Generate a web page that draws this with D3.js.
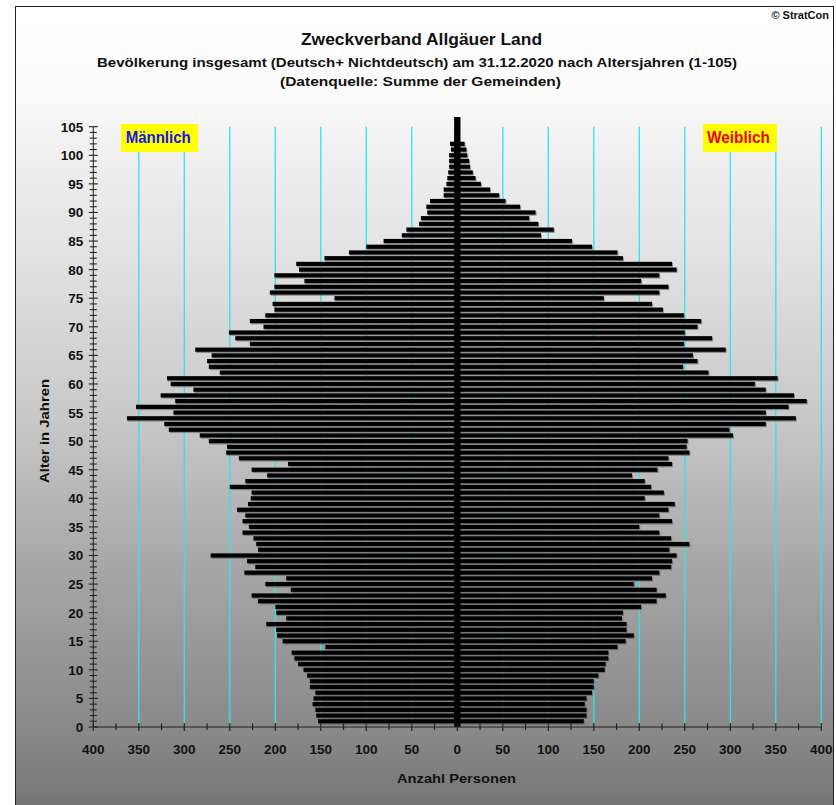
<!DOCTYPE html>
<html><head><meta charset="utf-8">
<script src="https://cdn.jsdelivr.net/npm/d3@7"></script>
<style>body{margin:0;background:#fff}svg{display:block}text{font-family:"Liberation Sans",Arial,sans-serif;font-weight:bold}</style>
</head><body>
<script>
const ages = [1,2,3,4,5,6,7,8,9,10,11,12,13,14,15,16,17,18,19,20,21,22,23,24,25,26,27,28,29,30,31,32,33,34,35,36,37,38,39,40,41,42,43,44,45,46,47,48,49,50,51,52,53,54,55,56,57,58,59,60,61,62,63,64,65,66,67,68,69,70,71,72,73,74,75,76,77,78,79,80,81,82,83,84,85,86,87,88,89,90,91,92,93,94,95,96,97,98,99,100,101,102];
const male = [153,155,156,159,158,156,162,162,165,169,175,179,182,145,192,198,199,210,188,199,200,219,226,183,211,188,234,222,231,271,219,221,224,236,229,236,233,242,230,227,226,250,233,209,226,186,240,254,253,273,283,317,322,363,312,353,310,326,290,315,319,261,273,275,270,288,228,244,251,213,228,211,201,203,135,206,201,168,201,174,177,146,119,100,81,61,56,42,40,33,34,30,15,15,12,11,10,9,9,9,7,8];
const female = [139,142,142,140,142,148,150,150,155,162,163,166,166,176,185,194,186,186,181,182,202,219,229,219,194,214,222,235,236,241,233,255,235,222,200,236,222,232,239,206,227,213,206,192,220,236,232,255,252,253,303,299,339,372,339,364,384,370,339,327,352,276,248,264,259,295,249,280,250,264,268,249,226,214,161,222,232,202,222,241,236,182,176,148,126,92,106,89,79,86,69,53,46,36,26,20,17,14,13,11,10,8];
const xTicks = [-400,-350,-300,-250,-200,-150,-100,-50,0,50,100,150,200,250,300,350,400];
const yTickLabels = [0,5,10,15,20,25,30,35,40,45,50,55,60,65,70,75,80,85,90,95,100,105];
const title = "Zweckverband Allgäuer Land";
const subtitle = "Bevölkerung  insgesamt (Deutsch+ Nichtdeutsch) am 31.12.2020 nach Altersjahren (1-105)";
const source = "(Datenquelle: Summe der Gemeinden)";
const legendMale = "Männlich", legendFemale = "Weiblich";

const W = 836, H = 805;
const svg = d3.select("body").append("svg").attr("width", W).attr("height", H);
const defs = svg.append("defs");
const grad = defs.append("linearGradient").attr("id","bg").attr("gradientUnits","userSpaceOnUse")
  .attr("x1",0).attr("y1",0).attr("x2",0).attr("y2",H);
[[0,"#ffffff"],[100,"#fbfbfb"],[130,"#f3f3f3"],[270,"#e0e0e0"],[420,"#c8c8c8"],[570,"#a6a6a6"],[740,"#878787"],[805,"#767676"]]
  .forEach(([y,c]) => grad.append("stop").attr("offset", y/H).attr("stop-color", c));

svg.append("rect").attr("x",15.5).attr("y",6.5).attr("width",818).attr("height",820)
  .attr("fill","url(#bg)").attr("stroke","#222").attr("stroke-width",1);

const x = d3.scaleLinear().domain([-400,400]).range([93.3,821.3]);
const y = d3.scaleLinear().domain([0,105]).range([727,126.7]);

// gridlines
svg.append("g").selectAll("line").data(xTicks.filter(d => d !== 0 && Math.abs(d) !== 400 || d === 400))
  .join("line").attr("x1", d => x(d)).attr("x2", d => x(d))
  .attr("y1", y(105)).attr("y2", y(0)).attr("stroke","#2fe4ea").attr("stroke-width",1.3);

// bars
const bh = 4.2;
const data = ages.map((a,i) => ({a, m: male[i], f: female[i]}));
const gb = svg.append("g");
gb.selectAll("rect.ms").data(data).join("rect").attr("class","ms")
  .attr("x", d => x(-d.m) + 1).attr("width", d => x(0) - x(-d.m))
  .attr("y", d => y(d.a) - bh/2 + 1.2).attr("height", bh).attr("fill","#555").attr("opacity",0.55);
gb.selectAll("rect.fs").data(data).join("rect").attr("class","fs")
  .attr("x", d => x(0) + 1).attr("width", d => x(d.f) - x(0))
  .attr("y", d => y(d.a) - bh/2 + 1.2).attr("height", bh).attr("fill","#555").attr("opacity",0.55);
gb.selectAll("rect.m").data(data).join("rect").attr("class","m")
  .attr("x", d => x(-d.m)).attr("width", d => x(0) - x(-d.m))
  .attr("y", d => y(d.a) - bh/2).attr("height", bh).attr("fill","#000");
gb.selectAll("rect.f").data(data).join("rect").attr("class","f")
  .attr("x", d => x(0)).attr("width", d => x(d.f) - x(0))
  .attr("y", d => y(d.a) - bh/2).attr("height", bh).attr("fill","#000");
// center spine
svg.append("rect").attr("x", x(-3.5)).attr("width", x(3.5)-x(-3.5))
  .attr("y", y(106.7)).attr("height", y(0)-y(106.7)).attr("fill","#000");

// x axis
const gx = svg.append("g").attr("transform",`translate(0,${y(0)})`);
gx.append("line").attr("x1",x(-400)).attr("x2",x(400)).attr("stroke","#222");
gx.selectAll("line.minor").data(d3.range(-400,401,25)).join("line").attr("class","minor")
  .attr("x1",d=>x(d)).attr("x2",d=>x(d)).attr("y1",d=>d%50===0?-4:-3.5).attr("y2",d=>d%50===0?4:3).attr("stroke","#222").attr("stroke-width",1.2);
gx.selectAll("text").data(xTicks).join("text").attr("x",d=>x(d)).attr("y",27)
  .attr("text-anchor","middle").attr("font-size",13.5).attr("fill","#111").text(d=>Math.abs(d));

// y axis
const gy = svg.append("g").attr("transform",`translate(${x(-400)},0)`);
gy.append("line").attr("y1",y(0)).attr("y2",y(105)).attr("stroke","#222");
gy.selectAll("line.t").data(d3.range(0,106)).join("line").attr("class","t")
  .attr("y1",d=>y(d)).attr("y2",d=>y(d)).attr("x1",d=>d%5===0?-4.5:-3.5).attr("x2",d=>d%5===0?4.5:3.5)
  .attr("stroke","#222").attr("stroke-width",1.1);
gy.selectAll("text").data(yTickLabels).join("text").attr("x",-10).attr("y",d=>y(d)+5)
  .attr("text-anchor","end").attr("font-size",13.5).attr("fill","#111").text(d=>d);

// titles
svg.append("text").attr("x",829).attr("y",19).attr("text-anchor","end").attr("font-size",11).attr("fill","#111").text("© StratCon");
svg.append("text").attr("x",421.5).attr("y",45).attr("text-anchor","middle").attr("font-size",16)
  .attr("textLength",241).attr("lengthAdjust","spacingAndGlyphs").attr("fill","#111").text(title);
svg.append("text").attr("x",417).attr("y",66.5).attr("text-anchor","middle").attr("font-size",12)
  .attr("textLength",640).attr("lengthAdjust","spacingAndGlyphs").attr("fill","#111").text(subtitle);
svg.append("text").attr("x",420.5).attr("y",86).attr("text-anchor","middle").attr("font-size",12)
  .attr("textLength",281).attr("lengthAdjust","spacingAndGlyphs").attr("fill","#111").text(source);

// axis titles
svg.append("text").attr("x",456.5).attr("y",783).attr("text-anchor","middle").attr("font-size",13)
  .attr("textLength",119).attr("lengthAdjust","spacingAndGlyphs").attr("fill","#111").text("Anzahl Personen");
svg.append("text").attr("transform","translate(49,431) rotate(-90)").attr("text-anchor","middle").attr("font-size",13)
  .attr("textLength",104).attr("lengthAdjust","spacingAndGlyphs").attr("fill","#111").text("Alter in Jahren");

// legend labels
svg.append("rect").attr("x",121).attr("y",124).attr("width",77).attr("height",28).attr("fill","#ffff00");
svg.append("text").attr("x",125.7).attr("y",142.5).attr("font-size",16).attr("textLength",65)
  .attr("lengthAdjust","spacingAndGlyphs").attr("fill","#1414f0").text(legendMale);
svg.append("rect").attr("x",703).attr("y",124).attr("width",74).attr("height",28).attr("fill","#ffff00");
svg.append("text").attr("x",707).attr("y",142.5).attr("font-size",16).attr("textLength",63)
  .attr("lengthAdjust","spacingAndGlyphs").attr("fill","#f00000").text(legendFemale);
</script>
</body></html>
